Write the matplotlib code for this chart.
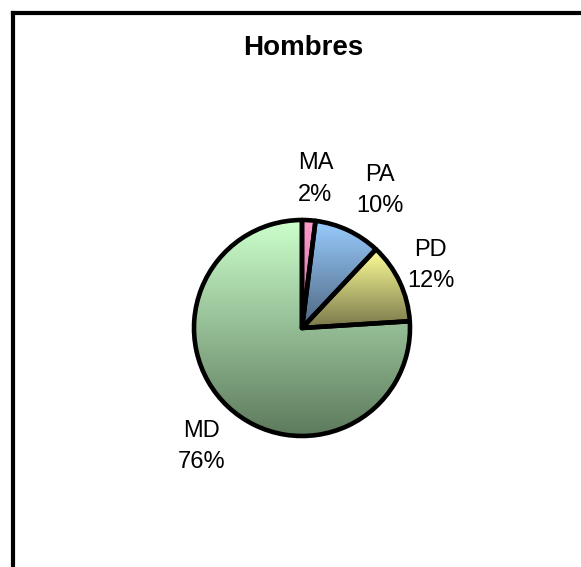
import numpy as np
import matplotlib.pyplot as plt
from matplotlib.colors import LinearSegmentedColormap
from matplotlib.lines import Line2D

# data
labels = ['MA', 'PA', 'PD', 'MD']
values = [2, 10, 12, 76]
pct_labels = ['2%', '10%', '12%', '76%']

# gradient colours per slice (top -> bottom), Excel style
top_colors = ['#FF99CC', '#99CCFF', '#FFFF99', '#CCFFCC']
bottom_colors = ['#C27A9E', '#4D6680', '#78784A', '#5C7A5C']

plt.rcParams['font.family'] = ['Liberation Sans', 'DejaVu Sans']

fig = plt.figure(figsize=(5.81, 5.67), dpi=100)

# pie axes: centre ~ (302, 328) px, radius ~108 px
W, H = 581, 567
cx, cy, r = 302, 328, 108
ax = fig.add_axes([(cx - r) / W, (H - cy - r) / H, 2 * r / W, 2 * r / H])
ax.axis('off')

wedges, _ = ax.pie(values, startangle=90, counterclock=False, radius=1,
                   wedgeprops=dict(facecolor='none', edgecolor='black',
                                   linewidth=3.3, joinstyle='round'))

grad = np.linspace(0, 1, 256).reshape(-1, 1)
for w, c0, c1 in zip(wedges, top_colors, bottom_colors):
    w.set_zorder(3)
    verts = w.get_path().vertices
    x0, x1 = verts[:, 0].min(), verts[:, 0].max()
    y0, y1 = verts[:, 1].min(), verts[:, 1].max()
    cmap = LinearSegmentedColormap.from_list('g', [c0, c1])
    im = ax.imshow(grad, cmap=cmap, extent=[x0, x1, y0, y1], origin='upper',
                   aspect='auto', zorder=2, interpolation='bilinear')
    im.set_clip_path(w)

ax.set_xlim(-1, 1)
ax.set_ylim(-1, 1)

# data labels, slight nudges (px) to mimic Excel placement
nudges = [(4, -2), (14, 1), (-8, -2), (3, -8)]
for w, lab, pct, (nx, ny) in zip(wedges, labels, pct_labels, nudges):
    ang = np.deg2rad((w.theta1 + w.theta2) / 2)
    d = 1.4
    ax.annotate(f'{lab}\n{pct}', (d * np.cos(ang), d * np.sin(ang)),
                xytext=(nx * 0.72, ny * 0.72), textcoords='offset points',
                ha='center', va='center', multialignment='center',
                fontsize=17, linespacing=1.55, color='black',
                annotation_clip=False)

fig.text(303 / W, 1 - 48 / H, 'Hombres', ha='center', va='center',
         fontsize=20, fontweight='bold')

# chart area frame (only left and top visible, crop continues off image)
fx, fy = 13 / W, 1 - 13 / H
fig.add_artist(Line2D([fx, fx], [-0.05, fy], transform=fig.transFigure,
                      color='black', linewidth=3, solid_capstyle='projecting'))
fig.add_artist(Line2D([fx, 1.05], [fy, fy], transform=fig.transFigure,
                      color='black', linewidth=3, solid_capstyle='projecting'))

fig.savefig('out.png', dpi=100)
